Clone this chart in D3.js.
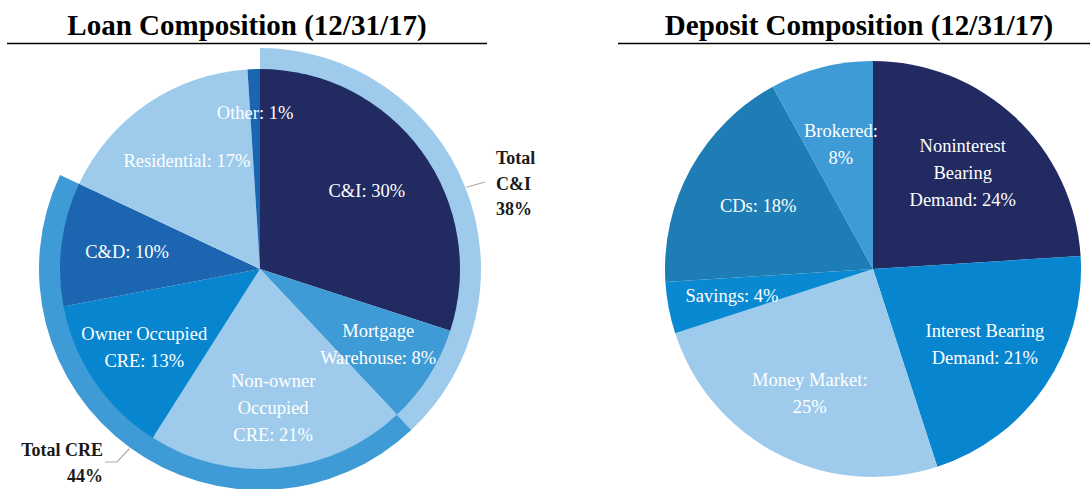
<!DOCTYPE html>
<html>
<head>
<meta charset="utf-8">
<script src="https://cdn.jsdelivr.net/npm/d3@7"></script>
<style>
  body { margin: 0; background: #fff; }
  svg { display: block; }
</style>
</head>
<body>
<div id="chart"></div>
<script>
// loan data, clockwise from 12 o'clock
var loanLabels = [["C&I: 30%"], ["Mortgage", "Warehouse: 8%"], ["Non-owner", "Occupied", "CRE: 21%"],
                  ["Owner Occupied", "CRE: 13%"], ["C&D: 10%"], ["Residential: 17%"], ["Other: 1%"]];
var loanValues = [30, 8, 21, 13, 10, 17, 1];
var loanColors = ["#222a62", "#3e9bd6", "#9ecbec", "#0786cf", "#1b65b1", "#9ecbec", "#1b65b1"];

// outer rings (groups of the loan slices)
var groupLabels = [["Total", "C&I", "38%"], ["Total CRE", "44%"]];
var groupStart  = [0, 38];   // cumulative % where group begins
var groupValues = [38, 44];
var groupColors = ["#9ecbec", "#3e9bd6"];

// deposit data
var depLabels = [["Noninterest", "Bearing", "Demand: 24%"], ["Interest Bearing", "Demand: 21%"],
                 ["Money Market:", "25%"], ["Savings: 4%"], ["CDs: 18%"], ["Brokered:", "8%"]];
var depValues = [24, 21, 25, 4, 18, 8];
var depColors = ["#222a62", "#0786cf", "#9ecbec", "#0889d2", "#1e7db4", "#3e9bd6"];

var SERIF = "'Liberation Serif', 'Times New Roman', Times, serif";
var W = 1090, H = 489;
var svg = d3.select("#chart").append("svg").attr("width", W).attr("height", H);

// titles + rules
function title(x, s) {
  svg.append("text").attr("x", x).attr("y", 35)
    .attr("font-family", SERIF).attr("font-weight", "bold").attr("font-size", 29)
    .attr("text-anchor", "middle").text(s);
}
title(247, "Loan Composition (12/31/17)");
title(859, "Deposit Composition (12/31/17)");
svg.append("line").attr("x1", 7).attr("x2", 487).attr("y1", 43.5).attr("y2", 43.5)
  .attr("stroke", "#000").attr("stroke-width", 1.3);
svg.append("line").attr("x1", 618).attr("x2", 1090).attr("y1", 43.5).attr("y2", 43.5)
  .attr("stroke", "#000").attr("stroke-width", 1.3);

var pie = d3.pie().sort(null).value(function (d) { return d; });
var lineH = 27;

function drawLabels(g, arcs, labels, r, fracs) {
  arcs.forEach(function (a, i) {
    var ang = (a.startAngle + a.endAngle) / 2;
    var rr = r * fracs[i];
    var x = Math.sin(ang) * rr, y = -Math.cos(ang) * rr;
    var lines = labels[i];
    var t = g.append("text").attr("font-family", SERIF).attr("font-size", 18.5)
      .attr("fill", "#fff").attr("text-anchor", "middle");
    lines.forEach(function (s, j) {
      t.append("tspan").attr("x", x)
        .attr("y", y + (j - (lines.length - 1) / 2) * lineH + 6)
        .text(s);
    });
  });
}

// ---- loan pie ----
var r1 = 200, rOut = 221;
var g1 = svg.append("g").attr("transform", "translate(260,269)");
var toAng = d3.scaleLinear().domain([0, 100]).range([0, 2 * Math.PI]);

var ringArc = d3.arc().innerRadius(r1 - 2).outerRadius(rOut);
groupValues.forEach(function (v, i) {
  g1.append("path")
    .attr("d", ringArc({ startAngle: toAng(groupStart[i]), endAngle: toAng(groupStart[i] + v) }))
    .attr("fill", groupColors[i]);
});

var loanArcs = pie(loanValues);
var arc1 = d3.arc().innerRadius(0).outerRadius(r1);
g1.selectAll("path.slice").data(loanArcs).enter().append("path")
  .attr("class", "slice")
  .attr("d", arc1)
  .attr("fill", function (d, i) { return loanColors[i]; });

drawLabels(g1, loanArcs, loanLabels, r1, [0.66, 0.7, 0.7, 0.7, 0.67, 0.65, 0.78]);

// group callouts
function polar(pct, rad) {
  var a = toAng(pct);
  return [Math.sin(a) * rad, -Math.cos(a) * rad];
}
g1.append("polyline")
  .attr("points", [polar(19, rOut + 1), [225, -87]].join(" "))
  .attr("fill", "none").attr("stroke", "#aaa").attr("stroke-width", 1.2);
var tci = svg.append("text").attr("font-family", SERIF).attr("font-weight", "bold")
  .attr("font-size", 18).attr("fill", "#1a1a1a");
groupLabels[0].forEach(function (s, j) {
  tci.append("tspan").attr("x", 496).attr("y", 164 + j * 25.5).text(s);
});

g1.append("polyline")
  .attr("points", [polar(60, rOut + 1), [-143, 193], [-155, 193]].join(" "))
  .attr("fill", "none").attr("stroke", "#aaa").attr("stroke-width", 1.2);
var tcre = svg.append("text").attr("font-family", SERIF).attr("font-weight", "bold")
  .attr("font-size", 18).attr("fill", "#1a1a1a").attr("text-anchor", "end");
groupLabels[1].forEach(function (s, j) {
  tcre.append("tspan").attr("x", 103).attr("y", 456 + j * 25.5).text(s);
});

// ---- deposit pie ----
var r2 = 208;
var g2 = svg.append("g").attr("transform", "translate(873,269)");
var depArcs = pie(depValues);
var arc2 = d3.arc().innerRadius(0).outerRadius(r2);
g2.selectAll("path.slice").data(depArcs).enter().append("path")
  .attr("class", "slice")
  .attr("d", arc2)
  .attr("fill", function (d, i) { return depColors[i]; });

drawLabels(g2, depArcs, depLabels, r2, [0.63, 0.65, 0.67, 0.69, 0.63, 0.62]);
</script>
</body>
</html>
